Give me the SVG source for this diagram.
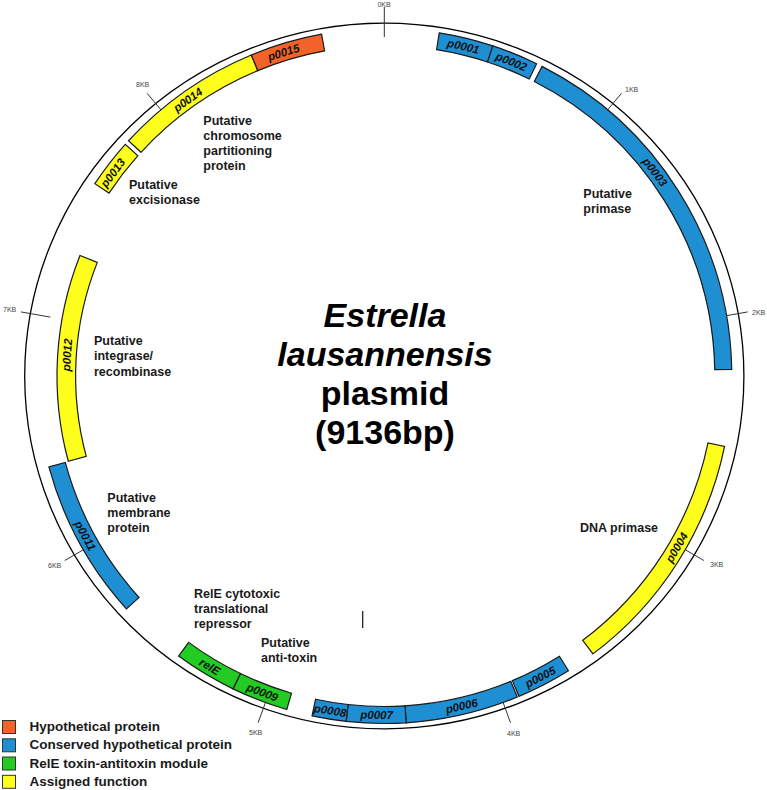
<svg xmlns="http://www.w3.org/2000/svg" width="767" height="790" viewBox="0 0 767 790">
<style>
text{font-family:"Liberation Sans",Arial,sans-serif;}
.g{stroke:#1a1a1a;stroke-width:1.2;stroke-linejoin:miter}
.hyp{fill:#F2632A}
.con{fill:#1F8FD3}
.rel{fill:#22CC22}
.asg{fill:#FFFF1E}
.gl{font-size:11.5px;font-weight:bold;font-style:italic;fill:#111;text-anchor:middle;dominant-baseline:central}
.tk{stroke:#333;stroke-width:1}
.tl{font-size:7px;fill:#444}
.an{font-size:12.5px;font-weight:bold;fill:#1a1a1a}
.ti{font-size:34px;font-weight:bold;fill:#000;text-anchor:middle}
.lg{font-size:13.5px;font-weight:bold;fill:#1a1a1a}
.ls{stroke:#333;stroke-width:1}
</style>
<rect width="767" height="790" fill="#fff"/>
<g id="connectors">
<g transform="translate(384.3,376)">
<ellipse cx="0" cy="0" rx="359.6" ry="352.8" fill="none" stroke="#000" stroke-width="1.3"/>
<line class="tk" x1="0" y1="-339" x2="0" y2="-369"/>
<line class="tk" x1="217.91" y1="-259.69" x2="237.19" y2="-282.67"/>
<line class="tk" x1="333.85" y1="-58.87" x2="363.39" y2="-64.08"/>
<line class="tk" x1="293.58" y1="169.5" x2="319.56" y2="184.5"/>
<line class="tk" x1="115.94" y1="318.56" x2="126.21" y2="346.75"/>
<line class="tk" x1="-115.94" y1="318.56" x2="-126.21" y2="346.75"/>
<line class="tk" x1="-293.58" y1="169.5" x2="-319.56" y2="184.5"/>
<line class="tk" x1="-333.85" y1="-58.87" x2="-363.39" y2="-64.08"/>
<line class="tk" x1="-217.91" y1="-259.69" x2="-237.19" y2="-282.67"/>
</g>
<line x1="362.7" y1="611" x2="362.7" y2="628" stroke="#111" stroke-width="1.2"/>
</g>
<g id="ticklabels">
<text class="tl" x="384" y="7" text-anchor="middle">0KB</text>
<text class="tl" x="625" y="92">1KB</text>
<text class="tl" x="752" y="315">2KB</text>
<text class="tl" x="710" y="567">3KB</text>
<text class="tl" x="507" y="736">4KB</text>
<text class="tl" x="249" y="735">5KB</text>
<text class="tl" x="48" y="568">6KB</text>
<text class="tl" x="3" y="312">7KB</text>
<text class="tl" x="136" y="87">8KB</text>
</g>
<g transform="translate(384.3,376)">
<g id="p0001"><path class="g con" d="M54.95,-343.13 A347.5,347.5 0 0 1 108.54,-330.11 L103.23,-313.97 A330.5,330.5 0 0 0 52.26,-326.34 Z"/></g>
<g id="p0002"><path class="g con" d="M108.54,-330.11 A347.5,347.5 0 0 1 152.33,-312.33 L144.88,-297.05 A330.5,330.5 0 0 0 103.23,-313.97 Z"/></g>
<g id="p0003"><path class="g con" d="M157.76,-309.63 A347.5,347.5 0 0 1 347.44,-6.67 L330.44,-6.35 A330.5,330.5 0 0 0 150.04,-294.48 Z"/></g>
<g id="p0004"><path class="g asg" d="M340.28,70.47 A347.5,347.5 0 0 1 208.65,277.89 L198.44,264.29 A330.5,330.5 0 0 0 323.63,67.02 Z"/></g>
<g id="p0005"><path class="g con" d="M184.15,294.7 A347.5,347.5 0 0 1 134.66,320.35 L128.08,304.67 A330.5,330.5 0 0 0 175.14,280.28 Z"/></g>
<g id="p0006"><path class="g con" d="M132.98,321.05 A347.5,347.5 0 0 1 21.82,346.82 L20.75,329.85 A330.5,330.5 0 0 0 126.48,305.34 Z"/></g>
<g id="p0007"><path class="g con" d="M21.82,346.82 A347.5,347.5 0 0 1 -38.13,345.4 L-36.27,328.5 A330.5,330.5 0 0 0 20.75,329.85 Z"/></g>
<g id="p0008"><path class="g con" d="M-38.13,345.4 A347.5,347.5 0 0 1 -72.25,339.91 L-68.71,323.28 A330.5,330.5 0 0 0 -36.27,328.5 Z"/></g>
<g id="p0009"><path class="g rel" d="M-97.53,333.53 A347.5,347.5 0 0 1 -151.24,312.86 L-143.84,297.56 A330.5,330.5 0 0 0 -92.76,317.22 Z"/></g>
<g id="relE"><path class="g rel" d="M-151.24,312.86 A347.5,347.5 0 0 1 -205.72,280.06 L-195.66,266.36 A330.5,330.5 0 0 0 -143.84,297.56 Z"/></g>
<g id="p0011"><path class="g con" d="M-257.9,232.9 A347.5,347.5 0 0 1 -335.42,90.82 L-319.01,86.38 A330.5,330.5 0 0 0 -245.29,221.5 Z"/></g>
<g id="p0012"><path class="g asg" d="M-316,85.26 A327.3,327.3 0 0 1 -304.32,-120.49 L-287.02,-113.64 A308.7,308.7 0 0 0 -298.04,80.42 Z"/></g>
<g id="p0013"><path class="g asg" d="M-289.44,-192.3 A347.5,347.5 0 0 1 -259.05,-231.62 L-246.38,-220.29 A330.5,330.5 0 0 0 -275.28,-182.9 Z"/></g>
<g id="p0014"><path class="g asg" d="M-255.8,-235.22 A347.5,347.5 0 0 1 -132.98,-321.05 L-126.48,-305.34 A330.5,330.5 0 0 0 -243.28,-223.71 Z"/></g>
<g id="p0015"><path class="g hyp" d="M-132.98,-321.05 A347.5,347.5 0 0 1 -62.73,-341.79 L-59.66,-325.07 A330.5,330.5 0 0 0 -126.48,-305.34 Z"/></g>
</g>
<g id="genelabels">
<text class="gl" transform="translate(463.4,46.4) rotate(13.5)">p0001</text>
<text class="gl" transform="translate(511.3,61.7) rotate(22)">p0002</text>
<text class="gl" transform="translate(655,172) rotate(53)">p0003</text>
<text class="gl" transform="translate(676.7,547.5) rotate(-59.6)">p0004</text>
<text class="gl" transform="translate(540.3,677) rotate(-27.4)">p0005</text>
<text class="gl" transform="translate(461.7,706) rotate(-13.2)">p0006</text>
<text class="gl" transform="translate(376.6,714.9) rotate(1.3)">p0007</text>
<text class="gl" transform="translate(330.1,710.6) rotate(9.2)">p0008</text>
<text class="gl" transform="translate(262.3,692.3) rotate(21.1)">p0009</text>
<text class="gl" transform="translate(209.7,666.6) rotate(31)">relE</text>
<text class="gl" transform="translate(85.3,535.7) rotate(61.9)">p0011</text>
<text class="gl" transform="translate(67,354.9) rotate(-86.2)">p0012</text>
<text class="gl" transform="translate(112.9,172.9) rotate(-53.2)">p0013</text>
<text class="gl" transform="translate(187.9,99.7) rotate(-35.4)">p0014</text>
<text class="gl" transform="translate(283.5,52.3) rotate(-17.3)">p0015</text>
</g>
<g id="annotations">
<text class="an" x="583.3" y="198.3">Putative<tspan x="583.3" dy="15">primase</tspan></text>
<text class="an" x="580" y="531.7">DNA primase</text>
<text class="an" x="261" y="647.3">Putative<tspan x="261" dy="14.5">anti-toxin</tspan></text>
<text class="an" x="194" y="598.3">RelE cytotoxic<tspan x="194" dy="15">translational</tspan><tspan x="194" dy="15">repressor</tspan></text>
<text class="an" x="107.3" y="501.7">Putative<tspan x="107.3" dy="15">membrane</tspan><tspan x="107.3" dy="15">protein</tspan></text>
<text class="an" x="94" y="345">Putative<tspan x="94" dy="15.4">integrase/</tspan><tspan x="94" dy="15.4">recombinase</tspan></text>
<text class="an" x="129" y="189.3">Putative<tspan x="129" dy="14.7">excisionase</tspan></text>
<text class="an" x="203.3" y="125">Putative<tspan x="203.3" dy="15">chromosome</tspan><tspan x="203.3" dy="15">partitioning</tspan><tspan x="203.3" dy="15">protein</tspan></text>
</g>
<g id="title">
<text class="ti" x="385" y="327" font-style="italic">Estrella</text>
<text class="ti" x="385" y="366" font-style="italic">lausannensis</text>
<text class="ti" x="385" y="405">plasmid</text>
<text class="ti" x="385" y="444">(9136bp)</text>
</g>
<g id="legend">
<rect class="ls hyp" x="2.5" y="720.5" width="13" height="13"/>
<rect class="ls con" x="2.5" y="738.8" width="13" height="13"/>
<rect class="ls rel" x="2.5" y="757" width="13" height="13"/>
<rect class="ls asg" x="2.5" y="775.3" width="13" height="13"/>
<text class="lg" x="29.5" y="731">Hypothetical protein</text>
<text class="lg" x="29.5" y="749.3">Conserved hypothetical protein</text>
<text class="lg" x="29.5" y="767.5">RelE toxin-antitoxin module</text>
<text class="lg" x="29.5" y="785.8">Assigned function</text>
</g>
</svg>
